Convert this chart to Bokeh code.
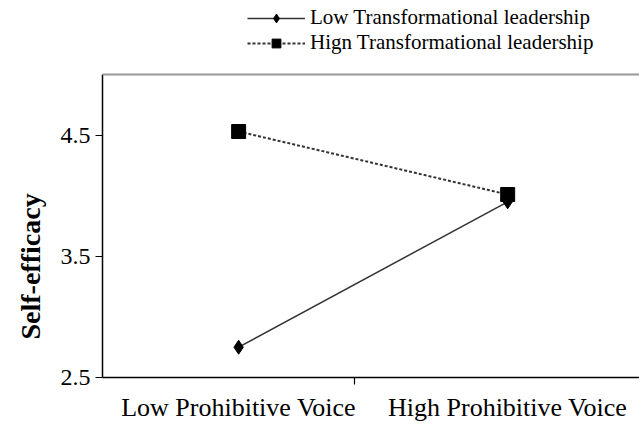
from bokeh.plotting import figure
from bokeh.models import (Range1d, FixedTicker, Legend, LegendItem, Span, Title)
from bokeh.embed import file_html
from bokeh.resources import INLINE

# data
x_pos = [1, 2]
low_tl = [2.75, 3.95]
high_tl = [4.53, 4.01]
category_labels = ["Low Prohibitive Voice", "High Prohibitive Voice"]
category_divider = [1.43]
y_ticks = [2.5, 3.5, 4.5]
y_bounds = (2.5, 5.0)

FONT = "Liberation Serif"

p = figure(width=639, height=424, output_backend="svg", toolbar_location=None,
           x_range=Range1d(0.494, 2.49), y_range=Range1d(2.5, 5.611),
           min_border_left=102, min_border_right=0, min_border_top=0,
           min_border_bottom=46)
p.outline_line_color = None
p.grid.visible = False
p.background_fill_color = "white"
p.border_fill_color = "white"

# x axis
xa = p.xaxis[0]
xa.ticker = FixedTicker(ticks=x_pos, minor_ticks=category_divider)
xa.major_label_overrides = {v: l for v, l in zip(x_pos, category_labels)}
xa.major_tick_out = 0
xa.major_tick_in = 0
xa.minor_tick_out = 7
xa.minor_tick_in = 0
xa.minor_tick_line_color = "black"
xa.minor_tick_line_width = 1.2
xa.axis_line_color = "black"
xa.axis_line_width = 1.5
xa.major_label_text_font = FONT
xa.major_label_text_font_size = "26px"
xa.major_label_text_color = "black"
xa.major_label_standoff = 8

# y axis
ya = p.yaxis[0]
ya.bounds = y_bounds
ya.ticker = FixedTicker(ticks=y_ticks)
ya.major_label_overrides = {v: f"{v:.1f}" for v in y_ticks}
ya.minor_tick_line_color = None
ya.major_tick_out = 7
ya.major_tick_in = 0
ya.major_tick_line_width = 1.2
ya.axis_line_width = 1.5
ya.major_label_text_font = FONT
ya.major_label_text_font_size = "24px"
ya.major_label_text_color = "black"
ya.major_label_standoff = 5

# y axis title, placed like the reference (lower than frame centre)
ytitle = Title(text="Self-efficacy", align="left", offset=38,
               text_font=FONT, text_font_style="bold", text_font_size="28px",
               text_color="black", standoff=23)
p.add_layout(ytitle, "left")

# top gray line
p.add_layout(Span(location=y_bounds[1], dimension="width", line_color="#999999", line_width=2))

# series
l1 = p.line(x_pos, low_tl, line_color="#333333", line_width=1.5)
s1 = p.scatter(x_pos, low_tl, marker="diamond", size=14, fill_color="black", line_color="black")
l2 = p.line(x_pos, high_tl, line_color="#333333", line_width=2, line_dash="3 2")
s2 = p.scatter(x_pos, high_tl, marker="square", size=14, fill_color="black", line_color="black")

legend = Legend(items=[
    LegendItem(label="Low Transformational leadership", renderers=[l1, s1]),
    LegendItem(label="Hign Transformational leadership", renderers=[l2, s2]),
], location=(145, 322), orientation="vertical",
    label_text_font=FONT, label_text_font_size="21px", label_text_color="black",
    glyph_width=58, glyph_height=22, label_height=22, spacing=0, padding=0,
    label_standoff=5, border_line_color=None, background_fill_alpha=0, margin=0)
p.add_layout(legend)

open("out.html", "w").write(file_html(p, INLINE))
